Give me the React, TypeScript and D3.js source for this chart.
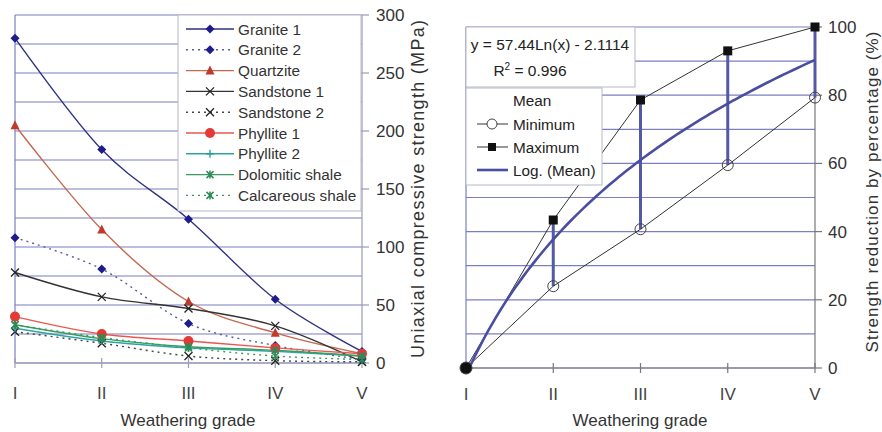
import React from "react";
import * as d3 from "d3";

const grades = ["I", "II", "III", "IV", "V"];

const granite1 = [280, 184, 124, 55, 10];
const granite2 = [108, 81, 34, 15, 3];
const quartzite = [205, 115, 53, 26, 8];
const sandstone1 = [78, 57, 47, 32, 1];
const sandstone2 = [27, 17, 6, 2, 1];
const phyllite1 = [40, 25, 19, 13, 8];
const phyllite2 = [30, 19, 13, 10, 6];
const dolomiticShale = [33, 21, 14, 11, 6];
const calcareousShale = [33, 22, 13, 6, 3];

const ucsTicks = [0, 50, 100, 150, 200, 250, 300];
const pctTicks = [0, 20, 40, 60, 80, 100];

const minimum = [0, 24, 40.7, 59.5, 79.3];
const maximum = [0, 43.4, 78.6, 93, 100];
const logCoefA = 57.44;
const logCoefB = -2.1114;
const rSquared = 0.996;

type Marker = "diamond" | "triangle" | "x" | "circle" | "plus" | "star";
interface SeriesDef {
  name: string;
  values: number[];
  stroke: string;
  fill: string;
  dashed: boolean;
  marker: Marker;
}

const seriesDefs: SeriesDef[] = [
  { name: "Granite 1", values: granite1, stroke: "#2e3180", fill: "#1c1c8c", dashed: false, marker: "diamond" },
  { name: "Granite 2", values: granite2, stroke: "#5a5c9a", fill: "#1c1c8c", dashed: true, marker: "diamond" },
  { name: "Quartzite", values: quartzite, stroke: "#c46a50", fill: "#c0392b", dashed: false, marker: "triangle" },
  { name: "Sandstone 1", values: sandstone1, stroke: "#333333", fill: "#222222", dashed: false, marker: "x" },
  { name: "Sandstone 2", values: sandstone2, stroke: "#444444", fill: "#222222", dashed: true, marker: "x" },
  { name: "Phyllite 1", values: phyllite1, stroke: "#e8584f", fill: "#e53935", dashed: false, marker: "circle" },
  { name: "Phyllite 2", values: phyllite2, stroke: "#2aa7a0", fill: "#1f9a94", dashed: false, marker: "plus" },
  { name: "Dolomitic shale", values: dolomiticShale, stroke: "#3a9a62", fill: "#2e8b57", dashed: false, marker: "star" },
  { name: "Calcareous shale", values: calcareousShale, stroke: "#3a9a62", fill: "#2e8b57", dashed: true, marker: "star" },
];

const FONT = "'Liberation Sans', Arial, sans-serif";
const GRID = "#7b7fc0";
const AXIS = "#9a9ab8";

function MarkerShape({ type, x, y, fill, stroke }: { type: Marker; x: number; y: number; fill: string; stroke: string }) {
  const s = 4.5;
  switch (type) {
    case "diamond":
      return <path d={`M${x},${y - s} L${x + s},${y} L${x},${y + s} L${x - s},${y} Z`} fill={fill} />;
    case "triangle":
      return <path d={`M${x},${y - s - 0.5} L${x + s},${y + s - 0.5} L${x - s},${y + s - 0.5} Z`} fill={fill} />;
    case "circle":
      return <circle cx={x} cy={y} r={5} fill={fill} />;
    case "x":
      return (
        <path d={`M${x - 4},${y - 4} L${x + 4},${y + 4} M${x - 4},${y + 4} L${x + 4},${y - 4}`} stroke={fill} strokeWidth={1.3} />
      );
    case "plus":
      return <path d={`M${x - 4},${y} L${x + 4},${y} M${x},${y - 4} L${x},${y + 4}`} stroke={fill} strokeWidth={1.3} />;
    case "star":
      return (
        <path
          d={`M${x - 3.5},${y - 3.5} L${x + 3.5},${y + 3.5} M${x - 3.5},${y + 3.5} L${x + 3.5},${y - 3.5} M${x},${y - 4} L${x},${y + 4}`}
          stroke={fill}
          strokeWidth={1.5}
        />
      );
  }
  return null;
}

function LeftChart() {
  const x = d3.scalePoint<string>().domain(grades).range([15, 362]);
  const y = d3.scaleLinear().domain([0, 300]).range([363, 15]);
  const gridVals = d3.range(0, 301, 25);
  const line = d3
    .line<number>()
    .x((_, i) => x(grades[i]) as number)
    .y((d) => y(d))
    .curve(d3.curveCatmullRom.alpha(0));

  const legendX = 178;
  const legendTop = 15;
  const rowH = 20.8;

  return (
    <g>
      {gridVals.map((v) => (
        <line key={v} x1={15} x2={362} y1={y(v)} y2={y(v)} stroke={GRID} strokeWidth={1.2} />
      ))}
      <line x1={15} x2={15} y1={15} y2={363} stroke={GRID} strokeWidth={1.2} />
      <line x1={362} x2={362} y1={15} y2={363} stroke={AXIS} strokeWidth={1.2} />
      <line x1={15} x2={362} y1={363} y2={363} stroke={AXIS} strokeWidth={1.2} />
      {ucsTicks.map((v) => (
        <g key={v}>
          <line x1={362} x2={369} y1={y(v)} y2={y(v)} stroke={AXIS} strokeWidth={1.2} />
          <text x={376} y={y(v) + 6} fontSize={17} fill="#333" fontFamily={FONT}>
            {v}
          </text>
        </g>
      ))}
      {grades.map((g) => (
        <g key={g}>
          <line x1={x(g)} x2={x(g)} y1={358} y2={368} stroke={AXIS} strokeWidth={1.2} />
          <text x={x(g)} y={399} fontSize={17} fill="#444" textAnchor="middle" fontFamily={FONT}>
            {g}
          </text>
        </g>
      ))}
      <text x={188} y={426} fontSize={17} fill="#333" textAnchor="middle" fontFamily={FONT}>
        Weathering grade
      </text>
      <text
        transform="translate(424,189) rotate(-90)"
        fontSize={18}
        fill="#333"
        textAnchor="middle"
        fontFamily={FONT}
        textLength={338}
        lengthAdjust="spacing"
      >
        Uniaxial compressive strength (MPa)
      </text>

      {seriesDefs.map((s) => (
        <path
          key={s.name}
          d={line(s.values) || ""}
          fill="none"
          stroke={s.stroke}
          strokeWidth={1.4}
          strokeDasharray={s.dashed ? "2,4" : undefined}
        />
      ))}
      {seriesDefs.map((s) =>
        s.values.map((v, i) => (
          <MarkerShape key={s.name + i} type={s.marker} x={x(grades[i]) as number} y={y(v)} fill={s.fill} stroke={s.stroke} />
        ))
      )}

      <rect x={legendX} y={legendTop} width={183} height={196} fill="#fff" stroke="#b8b8c8" strokeWidth={1} />
      {seriesDefs.map((s, i) => {
        const cy = legendTop + 14 + i * rowH;
        return (
          <g key={s.name}>
            <line
              x1={186}
              x2={234}
              y1={cy}
              y2={cy}
              stroke={s.stroke}
              strokeWidth={1.4}
              strokeDasharray={s.dashed ? "2,4" : undefined}
            />
            <MarkerShape type={s.marker} x={210} y={cy} fill={s.fill} stroke={s.stroke} />
            <text x={238} y={cy + 5.5} fontSize={15.3} fill="#333" fontFamily={FONT}>
              {s.name}
            </text>
          </g>
        );
      })}
    </g>
  );
}

function RightChart() {
  const x = d3.scalePoint<string>().domain(grades).range([466, 815]);
  const y = d3.scaleLinear().domain([0, 100]).range([368, 27]);
  const gridVals = d3.range(0, 101, 10);
  const straight = d3
    .line<number>()
    .x((_, i) => x(grades[i]) as number)
    .y((d) => y(d));

  const xi = d3.scaleLinear().domain([1, 5]).range([466, 815]);
  const trendPts = d3.range(1, 5.0001, 0.05).map((t) => [xi(t), y(Math.max(0, logCoefA * Math.log(t) + logCoefB))] as [number, number]);
  const trend = d3.line()(trendPts) || "";

  return (
    <g>
      {gridVals.map((v) => (
        <line key={v} x1={466} x2={815} y1={y(v)} y2={y(v)} stroke={GRID} strokeWidth={1.2} />
      ))}
      <line x1={466} x2={466} y1={27} y2={368} stroke={GRID} strokeWidth={1.2} />
      <line x1={815} x2={815} y1={27} y2={368} stroke="#777" strokeWidth={1.2} />
      <line x1={466} x2={815} y1={368} y2={368} stroke="#777" strokeWidth={1.2} />
      {pctTicks.map((v) => (
        <g key={v}>
          <line x1={815} x2={822} y1={y(v)} y2={y(v)} stroke="#777" strokeWidth={1.2} />
          <text x={828} y={y(v) + 6} fontSize={17} fill="#333" fontFamily={FONT}>
            {v}
          </text>
        </g>
      ))}
      {grades.map((g) => (
        <g key={g}>
          <line x1={x(g)} x2={x(g)} y1={363} y2={373} stroke="#777" strokeWidth={1.2} />
          <text x={x(g)} y={400} fontSize={17} fill="#444" textAnchor="middle" fontFamily={FONT}>
            {g}
          </text>
        </g>
      ))}
      <text x={640} y={426} fontSize={17} fill="#333" textAnchor="middle" fontFamily={FONT}>
        Weathering grade
      </text>
      <text
        transform="translate(878,192) rotate(-90)"
        fontSize={17}
        fill="#333"
        textAnchor="middle"
        fontFamily={FONT}
        textLength={321}
        lengthAdjust="spacing"
      >
        Strength reduction by percentage (%)
      </text>

      {/* high-low lines */}
      {grades.map((g, i) =>
        i === 0 ? null : (
          <line key={g} x1={x(g)} x2={x(g)} y1={y(minimum[i])} y2={y(maximum[i])} stroke="#5558a3" strokeWidth={3} />
        )
      )}
      <path d={straight(minimum) || ""} fill="none" stroke="#333" strokeWidth={1} />
      <path d={straight(maximum) || ""} fill="none" stroke="#333" strokeWidth={1} />
      <path d={trend} fill="none" stroke="#4a4ea0" strokeWidth={2.6} />
      {maximum.map((v, i) => (
        <rect key={"mx" + i} x={(x(grades[i]) as number) - 4.5} y={y(v) - 4.5} width={9} height={9} fill="#111" />
      ))}
      {minimum.map((v, i) => (
        <circle
          key={"mn" + i}
          cx={x(grades[i]) as number}
          cy={y(v)}
          r={i === 0 ? 6 : 5.5}
          fill={i === 0 ? "#111" : "none"}
          stroke="#444"
          strokeWidth={1}
        />
      ))}

      {/* equation box */}
      <rect x={466} y={27} width={169} height={60} fill="#fff" stroke="#b8b8c8" strokeWidth={1} />
      <text x={550} y={50} fontSize={15.5} fill="#222" textAnchor="middle" fontFamily={FONT}>
        y = {logCoefA}Ln(x) - {Math.abs(logCoefB)}
      </text>
      <text x={530} y={76} fontSize={15.5} fill="#222" textAnchor="middle" fontFamily={FONT}>
        R<tspan dy={-6} fontSize={10}>2</tspan>
        <tspan dy={6}> = {rSquared}</tspan>
      </text>

      {/* legend */}
      <rect x={466} y={88} width={136} height={97} fill="#fff" stroke="#b8b8c8" strokeWidth={1} />
      <text x={513} y={106} fontSize={15.3} fill="#222" fontFamily={FONT}>
        Mean
      </text>
      <line x1={477} x2={508} y1={124} y2={124} stroke="#333" strokeWidth={1} />
      <circle cx={492} cy={124} r={5} fill="#fff" stroke="#444" strokeWidth={1} />
      <text x={513} y={129.5} fontSize={15.3} fill="#222" fontFamily={FONT}>
        Minimum
      </text>
      <line x1={477} x2={508} y1={147} y2={147} stroke="#333" strokeWidth={1} />
      <rect x={488} y={143} width={8} height={8} fill="#111" />
      <text x={513} y={152.5} fontSize={15.3} fill="#222" fontFamily={FONT}>
        Maximum
      </text>
      <line x1={477} x2={508} y1={170} y2={170} stroke="#4a4ea0" strokeWidth={2.6} />
      <text x={513} y={175.5} fontSize={15.3} fill="#222" fontFamily={FONT}>
        Log. (Mean)
      </text>
    </g>
  );
}

export default function App() {
  return (
    <svg
      width={882}
      height={432}
      viewBox="0 0 882 432"
      style={{ position: "absolute", left: 0, top: 0, background: "#fff" }}
    >
      <rect x={0} y={0} width={882} height={432} fill="#fff" />
      <LeftChart />
      <RightChart />
    </svg>
  );
}
